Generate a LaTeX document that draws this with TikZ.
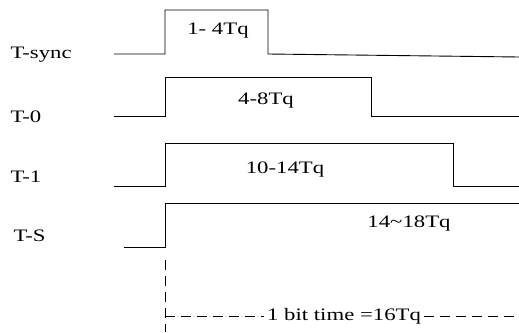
\documentclass[tikz,border=0pt]{standalone}
\usepackage{fontspec}
\setmainfont{Liberation Serif}
\usetikzlibrary{positioning}

\tikzset{
  wave/.style={line width=0.9pt, line join=miter},
  sig/.style={anchor=west, xscale=1.3},
  span/.style={xscale=1.3},
  guide/.style={line width=0.8pt, dash pattern=on 10pt off 6pt}
}

\begin{document}
\begin{tikzpicture}[x=1pt, y=-1pt, font=\fontsize{17.5}{20}\selectfont]
  \useasboundingbox (0,0) rectangle (519,332);

  % signal names
  \node[sig] (nsync) at (6,55)  {T-sync};
  \node[sig] (nzero) at (6,117) {T-0};
  \node[sig] (none)  at (6,177) {T-1};
  \node[sig] (ns)    at (9,236) {T-S};

  % waveforms
  \draw[wave] (114,54) -- (165,54) -- (165,10) -- (268,10) -- (268,54) -- (519,57);
  \draw[wave] (114,116) -- (165,116) -- (165,77) -- (371,77) -- (371,116) -- (519,116);
  \draw[wave] (114,186) -- (165,186) -- (165,143) -- (453,143) -- (453,186) -- (519,186);
  \draw[wave] (124,247) -- (165,247) -- (165,203) -- (519,203);

  % segment lengths
  \node[span] (lsync) at (218,31)  {1- 4Tq};
  \node[span] (lzero) at (266,101) {4-8Tq};
  \node[span] (lone)  at (285,170) {10-14Tq};
  \node[span] (ls)    at (409,224) {14\textasciitilde 18Tq};

  % bit time
  \coordinate (top) at (165,260);
  \coordinate (bot) at (165,332);
  \coordinate (lft) at (165,316);
  \coordinate (rgt) at (519,316);
  \draw[guide] (top) -- (bot);
  \node[span, inner sep=2pt] (bit) at (344,316) {1 bit time =16Tq};
  \draw[guide] (lft) -- (bit.west);
  \draw[guide] (bit.east) -- (rgt);
\end{tikzpicture}
\end{document}
